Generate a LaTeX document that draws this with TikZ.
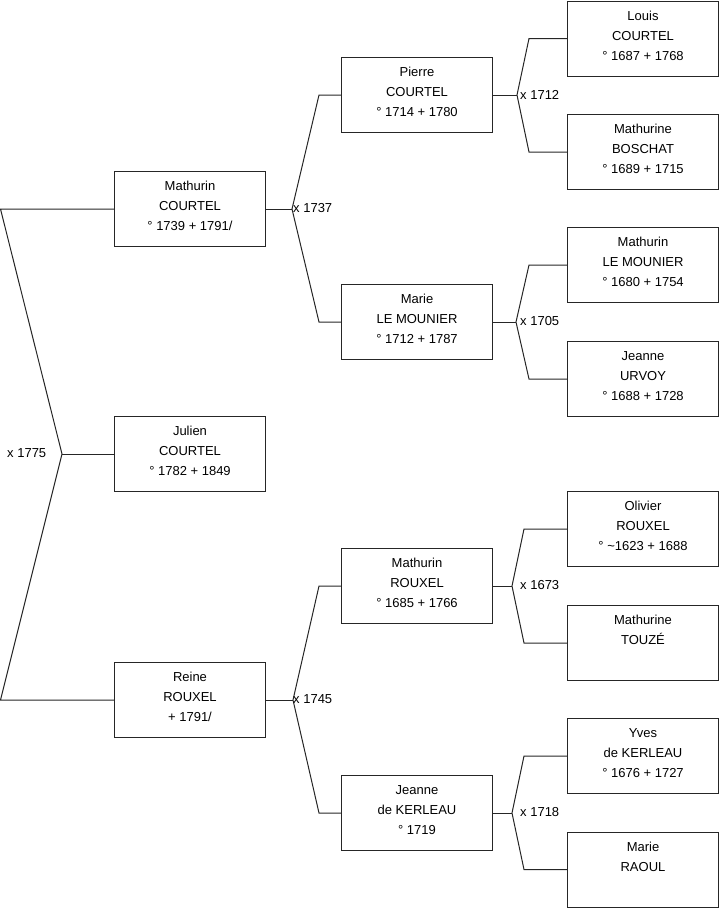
\documentclass[tikz,border=0pt]{standalone}
\usepackage{fontspec}
\setmainfont{Liberation Sans}
\begin{document}
\begin{tikzpicture}[x=1pt,y=-1pt,
  pbox/.style={draw=black!85,line width=1pt,minimum width=151pt,minimum height=75pt,inner sep=0pt,anchor=north west},
  ptxt/.style={anchor=north,inner sep=0pt,align=center,font=\fontsize{13}{20}\selectfont},
  link/.style={draw=black!85,line width=1pt},
  mlab/.style={anchor=west,inner sep=0pt,font=\fontsize{13}{15}\selectfont}]
\useasboundingbox (0,0) rectangle (719,908);
\newcommand\person[3]{%
  \node[pbox] (#1) at (#2) {};
  \node[ptxt] (#1t) at ([yshift=-10.2pt]#1.north) {#3};}
% column 1
\person{mathurinc}{114,171}{Mathurin\\COURTEL\\° 1739 + 1791/}
\person{julien}{114,416}{Julien\\COURTEL\\° 1782 + 1849}
\person{reine}{114,662}{Reine\\ROUXEL\\+ 1791/}
% column 2
\person{pierre}{341,57}{Pierre\\COURTEL\\° 1714 + 1780}
\person{marie}{341,284}{Marie\\LE MOUNIER\\° 1712 + 1787}
\person{mathurinr}{341,548}{Mathurin\\ROUXEL\\° 1685 + 1766}
\person{jeanne}{341,775}{Jeanne\\de KERLEAU\\° 1719}
% column 3
\person{louis}{567,0.5}{Louis\\COURTEL\\° 1687 + 1768}
\person{boschat}{567,114}{Mathurine\\BOSCHAT\\° 1689 + 1715}
\person{lemounier}{567,227}{Mathurin\\LE MOUNIER\\° 1680 + 1754}
\person{urvoy}{567,341}{Jeanne\\URVOY\\° 1688 + 1728}
\person{olivier}{567,491}{Olivier\\ROUXEL\\° \textasciitilde 1623 + 1688}
\person{touze}{567,605}{Mathurine\\TOUZÉ}
\person{yves}{567,718}{Yves\\de KERLEAU\\° 1676 + 1727}
\person{raoul}{567,831.5}{Marie\\RAOUL}
% root connector
\draw[link] (julien.west) -- ++(-52,0) coordinate (j0);
\draw[link] (mathurinc.west) -- ++(-113.5,0) -- (j0) -- ([xshift=-113.5pt]reine.west) -- (reine.west);
\node[mlab] (l0) at (7,453.5) {x 1775};
% column 1 -> 2
\draw[link] (mathurinc.east) -- ++(26,0) coordinate (j1);
\draw[link] (pierre.west) -- ++(-22,0) -- (j1) -- ([xshift=-22pt]marie.west) -- (marie.west);
\node[mlab] (l1) at (293,208.5) {x 1737};
\draw[link] (reine.east) -- ++(27,0) coordinate (j2);
\draw[link] (mathurinr.west) -- ++(-22,0) -- (j2) -- ([xshift=-22pt]jeanne.west) -- (jeanne.west);
\node[mlab] (l2) at (293,699.5) {x 1745};
% column 2 -> 3
\draw[link] (pierre.east) -- ++(24,0) coordinate (j3);
\draw[link] (louis.west) -- ++(-38,0) -- (j3) -- ([xshift=-38pt]boschat.west) -- (boschat.west);
\node[mlab] (l3) at (520,94.5) {x 1712};
\draw[link] (marie.east) -- ++(23,0) coordinate (j4);
\draw[link] (lemounier.west) -- ++(-38,0) -- (j4) -- ([xshift=-38pt]urvoy.west) -- (urvoy.west);
\node[mlab] (l4) at (520,321.5) {x 1705};
\draw[link] (mathurinr.east) -- ++(19,0) coordinate (j5);
\draw[link] (olivier.west) -- ++(-43,0) -- (j5) -- ([xshift=-43pt]touze.west) -- (touze.west);
\node[mlab] (l5) at (520,585.5) {x 1673};
\draw[link] (jeanne.east) -- ++(19,0) coordinate (j6);
\draw[link] (yves.west) -- ++(-43,0) -- (j6) -- ([xshift=-43pt]raoul.west) -- (raoul.west);
\node[mlab] (l6) at (520,812.5) {x 1718};
\end{tikzpicture}
\end{document}
